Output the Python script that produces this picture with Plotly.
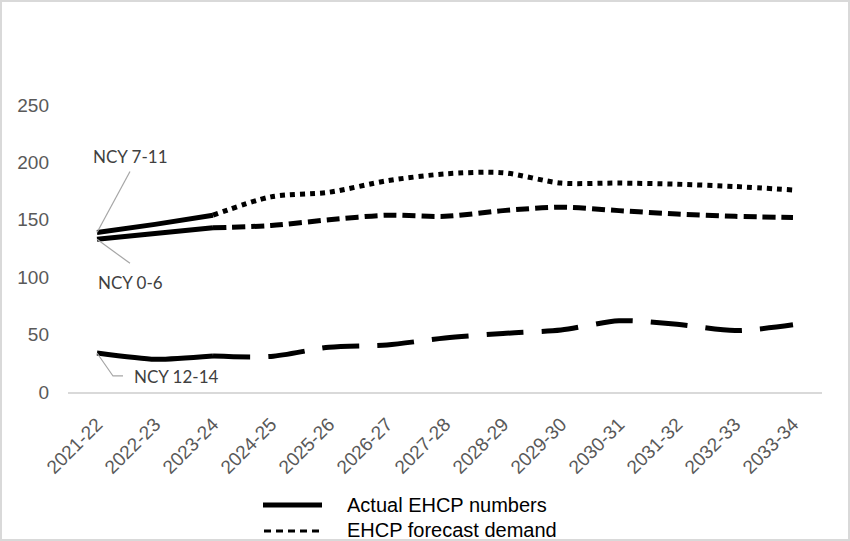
import plotly.graph_objects as go

years = ["2021-22", "2022-23", "2023-24", "2024-25", "2025-26", "2026-27", "2027-28",
         "2028-29", "2029-30", "2030-31", "2031-32", "2032-33", "2033-34"]

# Actual EHCP numbers (first three years)
actual_711 = [139, 146, 154]
actual_06 = [133, 138, 143]
actual_1214 = [34, 28.5, 31.4]

# Forecast demand (from 2023-24 onward)
forecast_711 = [154, 170, 174, 184, 190, 191, 182, 182, 181, 179, 176]
forecast_06 = [143, 145, 150, 154, 153, 158, 161, 158, 155, 153, 152]
forecast_1214 = [31.4, 31, 39, 41, 47, 51, 54, 62, 59, 53.5, 58.5]

series_labels = ["NCY 7-11", "NCY 0-6", "NCY 12-14"]
legend_labels = ["Actual EHCP numbers", "EHCP forecast demand"]

W, H = 850, 541
ML, MR, MT, MB = 68, 28, 105, 149
PW, PH = W - ML - MR, H - MT - MB

def px_x(p):
    return (p - ML) / PW

def px_y(p):
    return (H - MB - p) / PH

fig = go.Figure()
BLACK = "#000000"

act_years = years[:3]
fc_years = years[2:]

fig.add_trace(go.Scatter(x=act_years, y=actual_711, mode="lines", showlegend=False,
                         line=dict(color=BLACK, width=5, shape="spline", smoothing=0.6)))
fig.add_trace(go.Scatter(x=act_years, y=actual_06, mode="lines", showlegend=False,
                         line=dict(color=BLACK, width=5, shape="spline", smoothing=0.6)))
fig.add_trace(go.Scatter(x=act_years, y=actual_1214, mode="lines", showlegend=False,
                         line=dict(color=BLACK, width=5, shape="spline", smoothing=0.6)))

fig.add_trace(go.Scatter(x=fc_years, y=forecast_711, mode="lines", showlegend=False,
                         line=dict(color=BLACK, width=5, dash="5px,5px", shape="spline", smoothing=0.8)))
fig.add_trace(go.Scatter(x=fc_years, y=forecast_06, mode="lines", showlegend=False,
                         line=dict(color=BLACK, width=5, dash="13px,6px", shape="spline", smoothing=0.8)))
fig.add_trace(go.Scatter(x=fc_years, y=forecast_1214, mode="lines", showlegend=False,
                         line=dict(color=BLACK, width=5, dash="37px,18px", shape="spline", smoothing=0.8)))

TXT = "#404040"
ann_font = dict(family="Lato, Open Sans, sans-serif", size=17, color=TXT)
tick_font = dict(family="Liberation Sans, Arial, sans-serif", size=19, color="#595959")

# Series labels positioned relative to first data point
fig.add_annotation(x=years[0], y=actual_711[0], text=series_labels[0], showarrow=False,
                   xshift=33, yshift=76, font=ann_font)
fig.add_annotation(x=years[0], y=actual_06[0], text=series_labels[1], showarrow=False,
                   xshift=33, yshift=-43, font=ann_font)
fig.add_annotation(x=years[0], y=actual_1214[0], text=series_labels[2], showarrow=False,
                   xanchor="left", xshift=35, yshift=-24, font=ann_font)

LEAD = dict(color="#a6a6a6", width=1.2)
fig.add_shape(type="line", xref="x", yref="y", xsizemode="pixel", ysizemode="pixel",
              xanchor=years[0], yanchor=actual_711[0], x0=0, y0=0, x1=33, y1=61, line=LEAD)
fig.add_shape(type="line", xref="x", yref="y", xsizemode="pixel", ysizemode="pixel",
              xanchor=years[0], yanchor=actual_06[0], x0=0, y0=0, x1=33, y1=-24, line=LEAD)
fig.add_shape(type="path", xref="x", yref="y", xsizemode="pixel", ysizemode="pixel",
              xanchor=years[0], yanchor=actual_1214[0], path="M0,0 L16,-23 L26,-23", line=LEAD)

# Manual legend
leg_font = dict(family="Liberation Sans, Arial, sans-serif", size=20, color=BLACK)
fig.add_shape(type="line", xref="paper", yref="paper", x0=px_x(263), x1=px_x(322),
              y0=px_y(505), y1=px_y(505), line=dict(color=BLACK, width=5))
fig.add_shape(type="line", xref="paper", yref="paper", x0=px_x(264), x1=px_x(322),
              y0=px_y(531), y1=px_y(531), line=dict(color=BLACK, width=3, dash="7px,5px"))
fig.add_annotation(xref="paper", yref="paper", x=px_x(345), y=px_y(505), text=legend_labels[0],
                   showarrow=False, xanchor="left", yanchor="middle", font=leg_font)
fig.add_annotation(xref="paper", yref="paper", x=px_x(345), y=px_y(530), text=legend_labels[1],
                   showarrow=False, xanchor="left", yanchor="middle", font=leg_font)

# Outer border
fig.add_shape(type="rect", xref="paper", yref="paper", x0=px_x(1), x1=px_x(849),
              y0=px_y(1), y1=px_y(540), line=dict(color="#d9d9d9", width=2), layer="below")

fig.update_layout(
    width=W, height=H,
    margin=dict(l=ML, r=MR, t=MT, b=MB),
    paper_bgcolor="white", plot_bgcolor="white",
    showlegend=False,
    xaxis=dict(type="category", categoryorder="array", categoryarray=years,
               range=[-0.5, len(years) - 0.5],
               tickangle=-45, tickfont=tick_font, showgrid=False, zeroline=False,
               showline=True, linecolor="#d9d9d9", linewidth=1.5, ticks="",
               ticklabelstandoff=12),
    yaxis=dict(range=[0, 250], tickvals=[0, 50, 100, 150, 200, 250], tickfont=tick_font,
               showgrid=False, zeroline=False, showline=False, ticks="",
               ticklabelstandoff=18),
)

fig.write_html("out.html", config={"displayModeBar": False},
               post_script="document.body.style.margin='0';document.body.style.overflow='hidden';")
